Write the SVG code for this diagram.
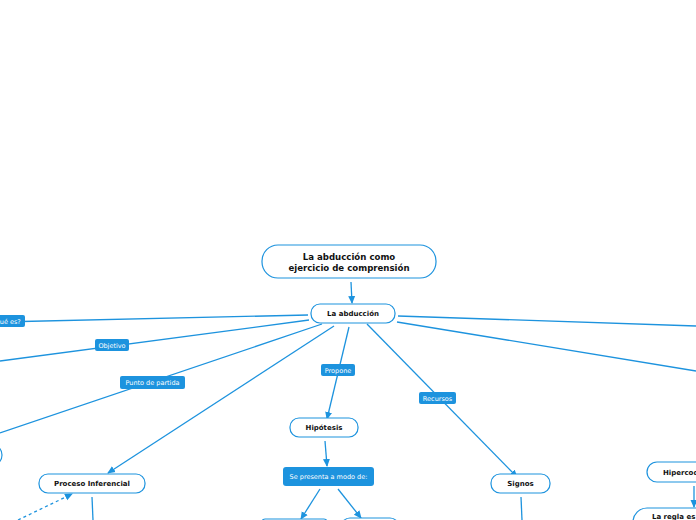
<svg xmlns="http://www.w3.org/2000/svg" width="696" height="520" viewBox="0 0 696 520">
<defs>
<marker id="arr" markerUnits="userSpaceOnUse" markerWidth="8" markerHeight="8" refX="7" refY="4" orient="auto">
<path d="M0,0.5 L8,4 L0,7.5 z" fill="#1d93de"/>
</marker>
<style>
.c{stroke:#1d93de;stroke-width:1.3;fill:none}
.n{fill:#fff;stroke:#1d93de;stroke-width:1.2}
.l{fill:#1d93de}
.t{font-family:"DejaVu Sans",Verdana,sans-serif;font-weight:bold;font-size:7px;fill:#111;text-anchor:middle}
.tt{font-family:"DejaVu Sans",Verdana,sans-serif;font-weight:bold;font-size:8.6px;fill:#111;text-anchor:middle}
.lt{font-family:"DejaVu Sans",Verdana,sans-serif;font-size:6.5px;fill:#fff;text-anchor:middle}
</style>
</defs>
<rect width="696" height="520" fill="#fff"/>
<g id="connectors">
<line class="c" x1="351" y1="282" x2="352" y2="303" marker-end="url(#arr)"/>
<line class="c" x1="308" y1="315" x2="0" y2="322"/>
<line class="c" x1="309" y1="320" x2="0" y2="361"/>
<line class="c" x1="322" y1="324" x2="0" y2="433"/>
<line class="c" x1="334" y1="326" x2="108" y2="473" marker-end="url(#arr)"/>
<line class="c" x1="349" y1="327" x2="327" y2="419" marker-end="url(#arr)"/>
<line class="c" x1="367" y1="324" x2="517" y2="477" marker-end="url(#arr)"/>
<line class="c" x1="398" y1="316" x2="696" y2="326"/>
<line class="c" x1="397" y1="322" x2="696" y2="371"/>
<line class="c" x1="92" y1="497" x2="93" y2="520"/>
<line class="c" x1="18" y1="520" x2="72" y2="494" stroke-dasharray="3,3" marker-end="url(#arr)"/>
<line class="c" x1="325" y1="441" x2="327" y2="466" marker-end="url(#arr)"/>
<line class="c" x1="320" y1="489" x2="301" y2="519" marker-end="url(#arr)"/>
<line class="c" x1="338" y1="489" x2="361" y2="518" marker-end="url(#arr)"/>
<line class="c" x1="521" y1="497" x2="522" y2="520"/>
<line class="c" x1="694" y1="486" x2="694" y2="507" marker-end="url(#arr)"/>
</g>
<g id="lbl-que"><rect class="l" x="-14" y="315" width="39" height="12" rx="2"/><text class="lt" x="6" y="323.5">¿Qué es?</text></g>
<g id="lbl-objetivo"><rect class="l" x="95" y="339" width="34" height="12" rx="2"/><text class="lt" x="112" y="347.5">Objetivo</text></g>
<g id="lbl-punto"><rect class="l" x="120" y="376" width="65" height="13" rx="2"/><text class="lt" x="152.5" y="385">Punto de partida</text></g>
<g id="lbl-propone"><rect class="l" x="321" y="364" width="34" height="12" rx="2"/><text class="lt" x="338" y="372.5">Propone</text></g>
<g id="lbl-recursos"><rect class="l" x="419" y="392" width="37" height="12" rx="2"/><text class="lt" x="437.5" y="400.5">Recursos</text></g>
<g id="n-title"><rect class="n" x="262" y="245" width="174" height="33" rx="16"/><text class="tt" x="349" y="259.5">La abducción como</text><text class="tt" x="349" y="271">ejercicio de comprensión</text></g>
<g id="n-abduccion"><rect class="n" x="311" y="304" width="84" height="19" rx="9"/><text class="t" x="353" y="316">La abducción</text></g>
<g id="n-left"><rect class="n" x="-60" y="444" width="62" height="22" rx="11"/></g>
<g id="n-proceso"><rect class="n" x="39" y="474" width="106" height="19" rx="9"/><text class="t" x="92" y="486">Proceso Inferencial</text></g>
<g id="n-hipotesis"><rect class="n" x="290" y="418" width="68" height="19" rx="9"/><text class="t" x="324" y="430">Hipótesis</text></g>
<g id="lbl-presenta"><rect class="l" x="283" y="467" width="91" height="19" rx="3"/><text class="lt" x="328.5" y="479">Se presenta a modo de:</text></g>
<g id="n-signos"><rect class="n" x="491" y="474" width="59" height="19" rx="9"/><text class="t" x="520.5" y="486">Signos</text></g>
<g id="n-hiper"><rect class="n" x="647" y="462" width="80" height="20" rx="10"/><text class="t" x="663" y="474.5" style="text-anchor:start">Hipercodificación</text></g>
<g id="n-regla"><rect class="n" x="633" y="508" width="100" height="30" rx="14"/><text class="t" x="652" y="519" style="text-anchor:start">La regla es</text></g>
<g id="n-b1"><rect class="n" x="262" y="519" width="65" height="20" rx="3"/></g>
<g id="n-b2"><rect class="n" x="341" y="518" width="58" height="20" rx="9"/></g>
</svg>
